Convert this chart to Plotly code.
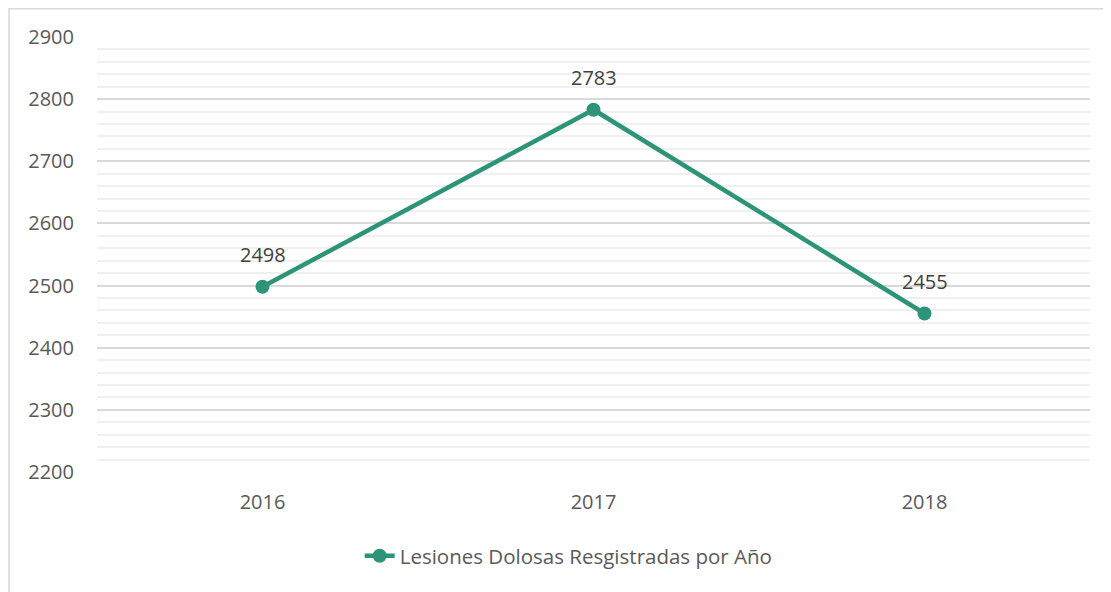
import plotly.graph_objects as go

years = ["2016", "2017", "2018"]
values = [2498, 2783, 2455]
series_name = "Lesiones Dolosas Resgistradas por Año"
y_ticks = [2200, 2300, 2400, 2500, 2600, 2700, 2800, 2900]

color = "#2e9479"
font = "Open Sans"

# page body has an 8px margin; compensate
L, T, W, H = 89, 29, 1103, 584
plot_w = 1090 - 97
plot_h = 472 - 37
B = H - T - plot_h

fig = go.Figure()
fig.add_trace(go.Scatter(
    x=years, y=values, mode="lines+markers", name=series_name,
    line=dict(color=color, width=4.5),
    marker=dict(color=color, size=14),
    cliponaxis=False,
))
for i, v in enumerate(values):
    fig.add_annotation(x=i, y=v, text=str(v), showarrow=False, yshift=32,
                       font=dict(family=font, size=20, color="#404040"))

fig.update_layout(
    width=W, height=H,
    margin=dict(l=L, r=W - L - plot_w, t=T, b=B, pad=0),
    paper_bgcolor="white", plot_bgcolor="white",
    font=dict(family=font, size=20, color="#595959"),
    showlegend=True,
    legend=dict(orientation="h", x=0.475, xanchor="center", y=-0.193, yanchor="middle",
                font=dict(family=font, size=20.5, color="#595959")),
    xaxis=dict(type="category", range=[-0.5, 2.5], showgrid=False, zeroline=False,
               showline=False, ticks="", ticklabelstandoff=16),
    yaxis=dict(range=[2200, 2900], tickvals=y_ticks, showgrid=True, gridcolor="#d9d9d9",
               gridwidth=1.5, zeroline=False, showline=False, ticks="", ticklabelstandoff=22,
               minor=dict(dtick=20, tick0=2200, showgrid=True, gridcolor="#f0f0f0", gridwidth=1.5)),
    shapes=[dict(type="rect", xref="paper", yref="paper",
                 x0=(9 - 97) / plot_w, x1=(1130 - 97) / plot_w,
                 y0=-(140) / plot_h, y1=1 + 28.2 / plot_h,
                 line=dict(color="#d9d9d9", width=1.5), fillcolor="rgba(0,0,0,0)", layer="below")],
)

fig.write_html("out.html")
